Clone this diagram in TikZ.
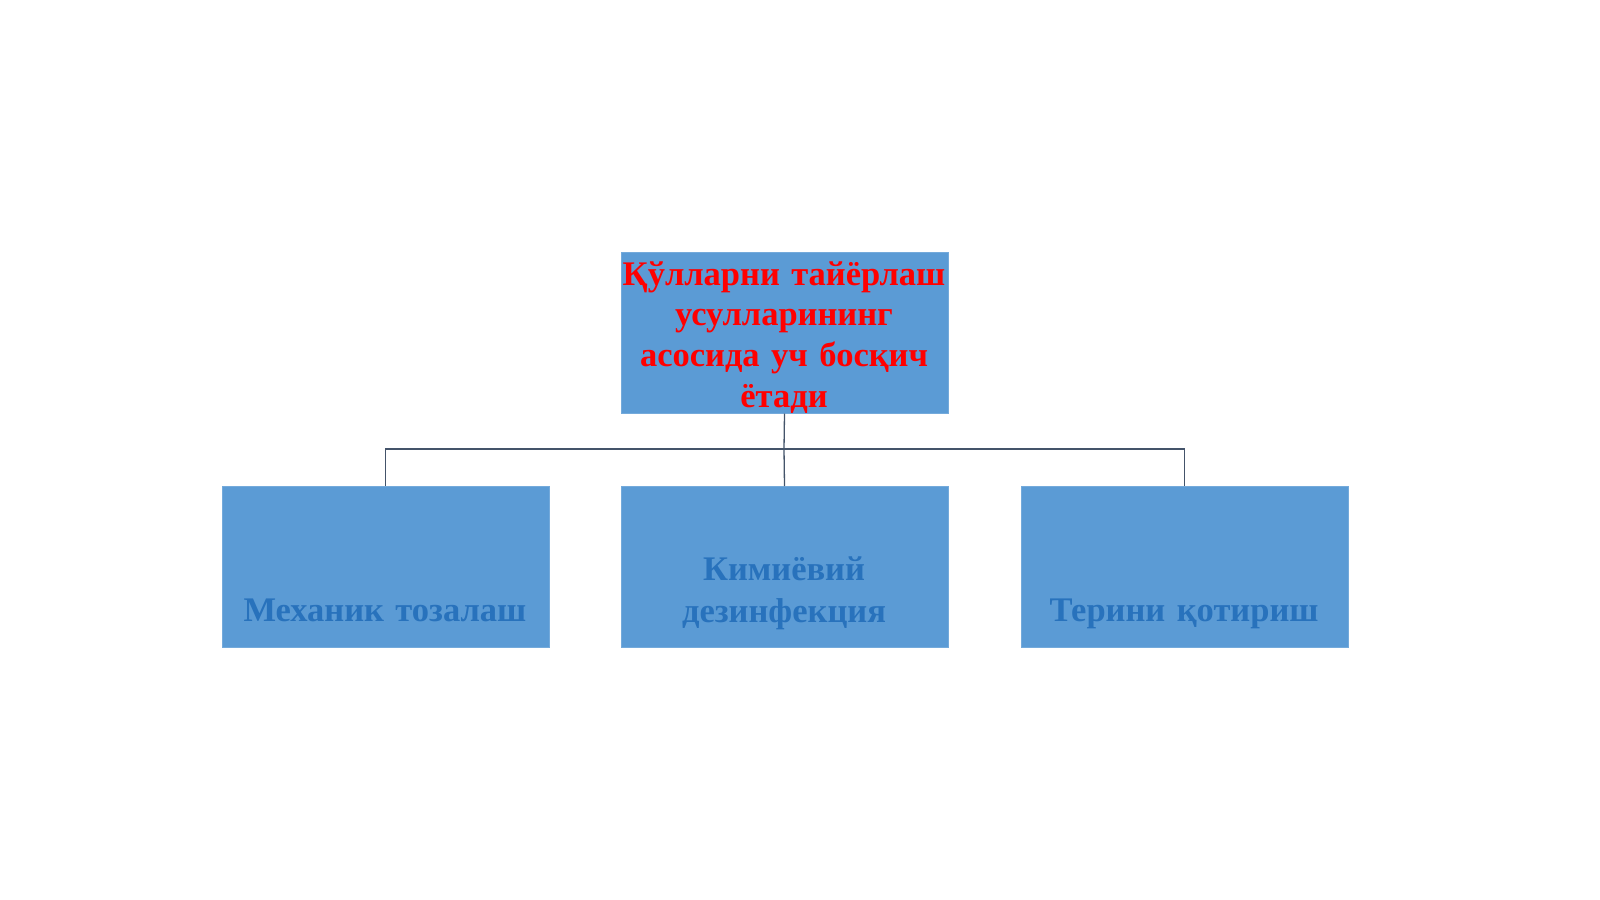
\documentclass[tikz,border=0pt]{standalone}
\usepackage{fontspec}
\setmainfont{Liberation Serif}
\definecolor{boxfill}{HTML}{5B9BD5}
\definecolor{boxtext}{HTML}{2872BC}
\definecolor{linecol}{HTML}{44546A}
\definecolor{redtext}{HTML}{FF0000}
\begin{document}
\begin{tikzpicture}[x=1pt,y=-1pt,
  box/.style={fill=boxfill, draw=boxfill!85!white, line width=1pt, minimum width=327pt, minimum height=161pt, inner sep=0pt, anchor=north west},
  toptext/.style={text=redtext, font=\fontsize{34.5}{40.8}\selectfont\bfseries, align=center, text width=340pt, inner sep=0pt, anchor=base},
  bottext/.style={text=boxtext, font=\fontsize{34.5}{42}\selectfont\bfseries, align=center, text width=330pt, inner sep=0pt, anchor=base},
  conn/.style={draw=linecol, line width=1.3pt}]
\useasboundingbox (0,0) rectangle (1600,899);
\node[box] (top) at (620.5,251.5) {};
\node[box] (left) at (221.5,486) {};
\node[box] (mid) at (620.5,486) {};
\node[box] (right) at (1020.5,486) {};
\node[toptext] (toplabel) at (784,285) {Қўлларни тайёрлаш\\усулларининг\\асосида уч босқич\\ётади};
\node[bottext] (leftlabel) at (385,621) {Механик тозалаш};
\node[bottext] (midlabel) at (784,580) {Кимиёвий\\дезинфекция};
\node[bottext] (rightlabel) at (1184,621) {Терини қотириш};
\coordinate (hub) at (784,449);
\draw[conn] (top.south) -- (hub);
\draw[conn] (hub) -- (mid.north);
\draw[conn] (left.north) |- (hub) -| (right.north);
\end{tikzpicture}
\end{document}
